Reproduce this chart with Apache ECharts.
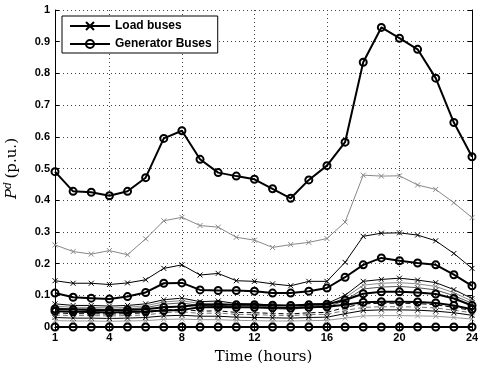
<!DOCTYPE html>
<html><head><meta charset="utf-8">
<script src="https://cdn.jsdelivr.net/npm/echarts@6/dist/echarts.min.js"></script>
<style>html,body{margin:0;padding:0;background:#fff}#c{width:478px;height:368px}</style>
</head><body><div id="c"></div>
<script>
const hours = ['1','2','3','4','5','6','7','8','9','10','11','12','13','14','15','16','17','18','19','20','21','22','23','24'];
const xTickLabels = ['1','4','8','12','16','20','24'];

const gen1 = [0.490,0.428,0.425,0.414,0.428,0.471,0.595,0.619,0.529,0.487,0.476,0.466,0.436,0.406,0.464,0.509,0.583,0.835,0.945,0.911,0.876,0.785,0.645,0.537];
const gen2 = [0.107,0.094,0.091,0.088,0.096,0.109,0.138,0.139,0.117,0.115,0.115,0.113,0.107,0.107,0.113,0.123,0.157,0.196,0.218,0.209,0.202,0.196,0.165,0.130];
const gen3 = [0.057,0.055,0.054,0.053,0.054,0.056,0.062,0.065,0.070,0.071,0.070,0.070,0.069,0.068,0.070,0.072,0.085,0.105,0.111,0.111,0.109,0.104,0.090,0.068];
const gen4 = [0.050,0.048,0.047,0.046,0.047,0.049,0.052,0.054,0.062,0.063,0.062,0.062,0.061,0.060,0.062,0.064,0.070,0.078,0.080,0.080,0.079,0.076,0.068,0.056];
const gen0 = [0,0,0,0,0,0,0,0,0,0,0,0,0,0,0,0,0,0,0,0,0,0,0,0];

const loadGray1 = [0.259,0.238,0.230,0.241,0.228,0.278,0.335,0.346,0.320,0.315,0.283,0.274,0.251,0.260,0.267,0.279,0.331,0.479,0.476,0.477,0.448,0.434,0.392,0.345];
const load1 = [0.146,0.138,0.138,0.134,0.139,0.149,0.185,0.196,0.164,0.169,0.146,0.144,0.136,0.130,0.144,0.144,0.204,0.286,0.296,0.297,0.290,0.272,0.232,0.185];
const load2 = [0.073,0.068,0.068,0.066,0.068,0.073,0.086,0.091,0.080,0.082,0.074,0.073,0.069,0.067,0.073,0.074,0.100,0.144,0.150,0.154,0.148,0.140,0.118,0.090];
const load3 = [0.066,0.062,0.062,0.060,0.062,0.067,0.079,0.083,0.074,0.075,0.068,0.067,0.063,0.061,0.067,0.068,0.092,0.132,0.138,0.140,0.136,0.128,0.108,0.082];
const load4 = [0.060,0.057,0.057,0.055,0.057,0.061,0.072,0.076,0.067,0.069,0.062,0.061,0.058,0.056,0.061,0.062,0.084,0.120,0.126,0.128,0.124,0.117,0.099,0.075];
const load5 = [0.045,0.042,0.042,0.041,0.042,0.045,0.053,0.056,0.050,0.051,0.046,0.045,0.043,0.041,0.045,0.046,0.062,0.073,0.075,0.075,0.074,0.070,0.062,0.052];
const load6 = [0.038,0.036,0.036,0.035,0.036,0.038,0.045,0.048,0.043,0.044,0.040,0.039,0.037,0.036,0.039,0.040,0.052,0.062,0.064,0.064,0.063,0.060,0.053,0.045];
const load7 = [0.030,0.028,0.028,0.027,0.028,0.030,0.035,0.037,0.034,0.034,0.031,0.030,0.029,0.028,0.030,0.031,0.042,0.052,0.054,0.054,0.053,0.050,0.045,0.037];
const load8 = [0.020,0.019,0.019,0.018,0.019,0.020,0.024,0.025,0.023,0.023,0.021,0.020,0.019,0.019,0.020,0.021,0.028,0.035,0.036,0.036,0.035,0.034,0.030,0.025];

const labelIdx = xTickLabels.map(l => hours.indexOf(l));
const gridIdx = labelIdx.slice(1, -1);
const X_SYM = 'path://M0,0L10,10M10,0L0,10';

function loadSeries(data, color, dashed) {
  return {
    name: 'Load buses', type: 'line', data: data,
    symbol: X_SYM, symbolSize: 5,
    lineStyle: { color: color, width: 1, type: dashed ? [5, 3] : 'solid' },
    itemStyle: { color: color, borderColor: color, borderWidth: 1 },
    z: 2, animation: false
  };
}
function genSeries(data) {
  return {
    name: 'Generator Buses', type: 'line', data: data,
    symbol: 'circle', symbolSize: 7,
    lineStyle: { color: '#000', width: 2 },
    itemStyle: { color: 'rgba(255,255,255,0)', borderColor: '#000', borderWidth: 2 },
    z: 3, animation: false
  };
}

const chart = echarts.init(document.getElementById('c'), null, { renderer: 'canvas' });
const tickFont = { fontFamily: 'Liberation Sans', fontWeight: 'bold', fontSize: 11, color: '#000' };
chart.setOption({
  animation: false,
  backgroundColor: '#fff',
  grid: { left: 55, right: 6, top: 10, bottom: 41, containLabel: false, outerBoundsMode: 'none' },
  legend: {
    data: ['Load buses', 'Generator Buses'],
    orient: 'vertical', left: 62, top: 16,
    backgroundColor: '#fff', borderColor: '#000', borderWidth: 1,
    padding: [4, 6, 3, 7], itemWidth: 40, itemHeight: 10, itemGap: 6,
    selectedMode: false,
    textStyle: { fontFamily: 'Liberation Sans', fontWeight: 'bold', fontSize: 12, color: '#000' }
  },
  xAxis: [{
    type: 'category', data: hours, boundaryGap: false,
    name: 'Time (hours)', nameLocation: 'middle', nameGap: 23,
    nameTextStyle: { fontFamily: 'DejaVu Serif', fontSize: 15, color: '#000' },
    axisLine: { lineStyle: { color: '#000', width: 1 } },
    axisTick: { inside: true, length: 4, interval: (i) => labelIdx.includes(i), lineStyle: { color: '#000' } },
    axisLabel: { ...tickFont, margin: 5, interval: (i) => labelIdx.includes(i) },
    splitLine: { show: true, interval: (i) => gridIdx.includes(i), lineStyle: { color: '#444', width: 1, type: [1, 3] } }
  }, {
    type: 'category', data: hours, boundaryGap: false, position: 'top',
    axisLine: { lineStyle: { color: '#000', width: 1 } },
    axisTick: { inside: true, length: 4, interval: (i) => labelIdx.includes(i), lineStyle: { color: '#000' } },
    axisLabel: { show: false }, splitLine: { show: false }
  }],
  yAxis: [{
    type: 'value', min: 0, max: 1, interval: 0.1,
    name: '{i|P}{s|d} {n|(p.u.)}', nameLocation: 'middle', nameGap: 33, nameRotate: 90,
    nameTextStyle: {
      color: '#000',
      rich: {
        i: { fontFamily: 'DejaVu Serif', fontStyle: 'italic', fontSize: 15, color: '#000' },
        s: { fontFamily: 'DejaVu Serif', fontStyle: 'italic', fontSize: 11, color: '#000', verticalAlign: 'top', padding: [0, 0, 8, 0] },
        n: { fontFamily: 'DejaVu Serif', fontSize: 15, color: '#000' }
      }
    },
    axisLine: { show: true, lineStyle: { color: '#000', width: 1 } },
    axisTick: { show: true, inside: true, length: 4, lineStyle: { color: '#000' } },
    axisLabel: { ...tickFont, margin: 5, formatter: (v) => (v === 0 ? '0' : v === 1 ? '1' : v.toFixed(1)) },
    splitLine: { show: true, lineStyle: { color: '#444', width: 1, type: [1, 3] } }
  }, {
    type: 'value', min: 0, max: 1, interval: 0.1, position: 'right',
    axisLine: { show: true, lineStyle: { color: '#000', width: 1 } },
    axisTick: { show: true, inside: true, length: 4, lineStyle: { color: '#000' } },
    axisLabel: { show: false }, splitLine: { show: false }
  }],
  series: [
    loadSeries(load1, '#000', false),
    loadSeries(loadGray1, '#888', false),
    loadSeries(load2, '#000', false),
    loadSeries(load3, '#888', false),
    loadSeries(load4, '#555', false),
    loadSeries(load5, '#000', true),
    loadSeries(load6, '#777', true),
    loadSeries(load7, '#000', false),
    loadSeries(load8, '#999', false),
    genSeries(gen1),
    genSeries(gen2),
    genSeries(gen3),
    genSeries(gen4),
    genSeries(gen0)
  ]
});
</script></body></html>
